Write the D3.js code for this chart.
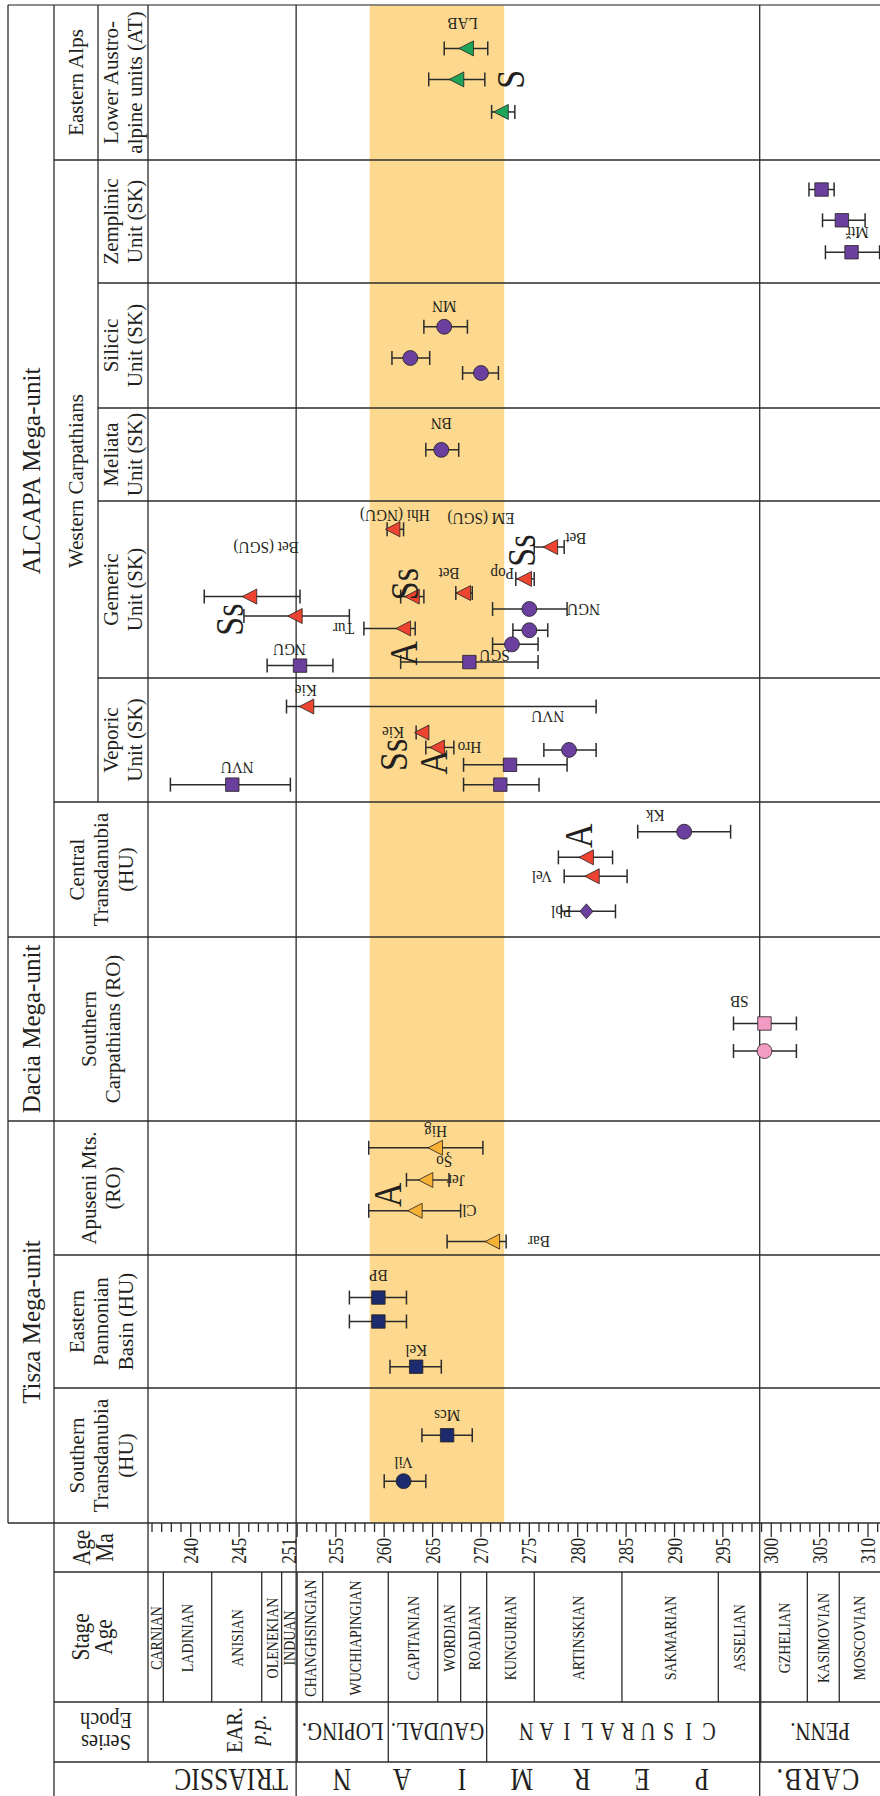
<!DOCTYPE html>
<html>
<head>
<meta charset="utf-8">
<script src="https://cdn.jsdelivr.net/npm/d3@7"></script>
<style>
  body { margin: 0; background: #fff; }
  svg { display: block; }
  text { font-family: "Liberation Serif", "Times New Roman", serif; fill: #231f20; }
</style>
</head>
<body>
<svg id="chart" width="880" height="1796"></svg>
<script>
// ---------------------------------------------------------------------------
// Geological time scale (Ma)
// ---------------------------------------------------------------------------
const majorTicks = [240, 245, 251, 255, 260, 265, 270, 275, 280, 285, 290, 295, 300, 305, 310];
const minorTicks = d3.range(236, 312);

const stages = [
  ["CARNIAN", 235.6, 237.17], ["LADINIAN", 237.17, 242.17], ["ANISIAN", 242.17, 247.34],
  ["OLENEKIAN", 247.34, 249.4], ["INDUAN", 249.4, 251], ["CHANGHSINGIAN", 251, 253.64],
  ["WUCHIAPINGIAN", 253.64, 260.42], ["CAPITANIAN", 260.42, 265.53], ["WORDIAN", 265.53, 267.9],
  ["ROADIAN", 267.9, 270.59], ["KUNGURIAN", 270.59, 275.51], ["ARTINSKIAN", 275.51, 284.57],
  ["SAKMARIAN", 284.57, 294.53], ["ASSELIAN", 294.53, 298.91], ["GZHELIAN", 298.91, 303.73],
  ["KASIMOVIAN", 303.73, 307.03], ["MOSCOVIAN", 307.03, 311.2]
];
const series = [
  ["EAR.|p.p.", 235.6, 251], ["LOPING.", 251, 260.42], ["GAUDAL.", 260.42, 270.59],
  ["CISURALIAN", 270.59, 298.91], ["PENN.", 298.91, 311.2]
];
const periods = [["TRIASSIC", 235.6, 251], ["PERMIAN", 251, 298.91], ["CARB.", 298.91, 311.2]];
const periodBoundaries = [251, 298.91];
const highlightedInterval = [258.5, 272.4];

// ---------------------------------------------------------------------------
// Tectonic units (top to bottom)
// ---------------------------------------------------------------------------
const megaUnits = ["ALCAPA Mega-unit", "Dacia Mega-unit", "Tisza Mega-unit"];
const unitGroups = ["Eastern Alps", "Western Carpathians"];
const units = [
  { id: "AT",  name: ["Lower Austro-", "alpine units (AT)"], group: "Eastern Alps", mega: "ALCAPA Mega-unit" },
  { id: "ZEM", name: ["Zemplinic", "Unit (SK)"], group: "Western Carpathians", mega: "ALCAPA Mega-unit" },
  { id: "SIL", name: ["Silicic", "Unit (SK)"], group: "Western Carpathians", mega: "ALCAPA Mega-unit" },
  { id: "MEL", name: ["Meliata", "Unit (SK)"], group: "Western Carpathians", mega: "ALCAPA Mega-unit" },
  { id: "GEM", name: ["Gemeric", "Unit (SK)"], group: "Western Carpathians", mega: "ALCAPA Mega-unit" },
  { id: "VEP", name: ["Veporic", "Unit (SK)"], group: "Western Carpathians", mega: "ALCAPA Mega-unit" },
  { id: "CT",  name: ["Central", "Transdanubia", "(HU)"], group: null, mega: "ALCAPA Mega-unit" },
  { id: "SC",  name: ["Southern", "Carpathians (RO)"], group: null, mega: "Dacia Mega-unit" },
  { id: "AP",  name: ["Apuseni Mts.", "(RO)"], group: null, mega: "Tisza Mega-unit" },
  { id: "EPB", name: ["Eastern", "Pannonian", "Basin (HU)"], group: null, mega: "Tisza Mega-unit" },
  { id: "ST",  name: ["Southern", "Transdanubia", "(HU)"], group: null, mega: "Tisza Mega-unit" }
];

// ---------------------------------------------------------------------------
// Dated samples: unit, track inside the unit row (0 top .. 1 bottom),
// age, lower and upper bound (Ma), marker, colour
// ---------------------------------------------------------------------------
const samples = [
  ["AT", 0.28, 268.5, 266.2, 270.7, "tri", "green"],
  ["AT", 0.48, 267.5, 264.6, 270.4, "tri", "green"],
  ["AT", 0.69, 272.1, 271.1, 273.5, "tri", "green"],
  ["ZEM", 0.24, 305.2, 303.9, 306.5, "square", "purple"],
  ["ZEM", 0.49, 307.3, 305.3, 309.7, "square", "purple"],
  ["ZEM", 0.75, 308.3, 305.6, 311.2, "square", "purple"],
  ["SIL", 0.35, 266.2, 264.1, 268.6, "circle", "purple"],
  ["SIL", 0.60, 262.7, 260.8, 264.7, "circle", "purple"],
  ["SIL", 0.72, 270.0, 268.1, 271.8, "circle", "purple"],
  ["MEL", 0.45, 265.9, 264.3, 267.7, "circle", "purple"],
  ["GEM", 0.54, 246.1, 241.4, 251.3, "tri", "red"],
  ["GEM", 0.65, 250.8, 245.5, 256.4, "tri", "red"],
  ["GEM", 0.93, 251.3, 247.9, 254.7, "square", "purple"],
  ["GEM", 0.72, 262.0, 257.9, 263.2, "tri", "red"],
  ["GEM", 0.16, 260.9, 260.3, 262.0, "tri", "red"],
  ["GEM", 0.54, 262.9, 261.7, 264.1, "tri", "red"],
  ["GEM", 0.52, 268.2, 267.4, 269.1, "tri", "red"],
  ["GEM", 0.44, 274.5, 273.6, 275.5, "tri", "red"],
  ["GEM", 0.26, 277.2, 275.5, 278.6, "tri", "red"],
  ["GEM", 0.61, 275.0, 271.2, 278.9, "circle", "purple"],
  ["GEM", 0.73, 275.0, 273.3, 276.9, "circle", "purple"],
  ["GEM", 0.81, 273.2, 271.2, 275.9, "circle", "purple"],
  ["GEM", 0.91, 268.8, 261.7, 275.9, "square", "purple"],
  ["VEP", 0.23, 252.0, 249.9, 281.9, "tri", "red"],
  ["VEP", 0.44, 263.9, 263.3, 264.5, "tri", "red"],
  ["VEP", 0.56, 265.5, 264.3, 267.2, "tri", "red"],
  ["VEP", 0.58, 279.1, 276.5, 281.9, "circle", "purple"],
  ["VEP", 0.70, 273.0, 268.2, 278.9, "square", "purple"],
  ["VEP", 0.86, 272.0, 268.2, 276.0, "square", "purple"],
  ["VEP", 0.86, 244.3, 237.9, 250.3, "square", "purple"],
  ["CT", 0.22, 291.0, 286.2, 295.8, "circle", "purple"],
  ["CT", 0.41, 280.9, 278.0, 283.6, "tri", "red"],
  ["CT", 0.55, 281.5, 278.6, 285.1, "tri", "red"],
  ["CT", 0.81, 280.9, 278.3, 283.9, "diamond", "purple"],
  ["SC", 0.47, 299.3, 296.1, 302.6, "square", "pink"],
  ["SC", 0.62, 299.3, 296.1, 302.6, "circle", "pink"],
  ["AP", 0.20, 265.3, 258.4, 270.2, "tri", "amber"],
  ["AP", 0.44, 264.3, 262.3, 266.7, "tri", "amber"],
  ["AP", 0.67, 263.2, 258.4, 267.9, "tri", "amber"],
  ["AP", 0.90, 271.2, 266.5, 272.6, "tri", "amber"],
  ["EPB", 0.32, 259.4, 256.4, 262.3, "square", "navy"],
  ["EPB", 0.50, 259.4, 256.4, 262.3, "square", "navy"],
  ["EPB", 0.84, 263.3, 260.6, 265.9, "square", "navy"],
  ["ST", 0.35, 266.5, 263.9, 269.1, "square", "navy"],
  ["ST", 0.69, 262.0, 260.0, 264.3, "circle", "navy"]
];

// Locality / sample names: unit, track, age, text
const sampleNames = [
  ["AT", 0.12, 268.1, "LAB"],
  ["ZEM", 0.59, 308.9, "Mtř"],
  ["SIL", 0.19, 266.2, "MN"],
  ["MEL", 0.17, 265.9, "BN"],
  ["GEM", 0.26, 247.8, "Bet (SGU)"],
  ["GEM", 0.84, 250.2, "NGU"],
  ["GEM", 0.72, 255.8, "Tur"],
  ["GEM", 0.08, 261.1, "Hhi (NGU)"],
  ["GEM", 0.10, 270.0, "EM (SGU)"],
  ["GEM", 0.41, 266.7, "Bet"],
  ["GEM", 0.41, 272.2, "Pop"],
  ["GEM", 0.21, 279.8, "Bet"],
  ["GEM", 0.61, 280.6, "NGU"],
  ["GEM", 0.87, 271.4, "SGU"],
  ["VEP", 0.10, 251.9, "Kie"],
  ["VEP", 0.44, 260.9, "Kie"],
  ["VEP", 0.56, 268.8, "Hro"],
  ["VEP", 0.31, 276.9, "NVU"],
  ["VEP", 0.72, 244.8, "NVU"],
  ["CT", 0.10, 288.0, "Kk"],
  ["CT", 0.55, 276.3, "Vel"],
  ["CT", 0.81, 278.3, "Pol"],
  ["SC", 0.35, 296.7, "SB"],
  ["AP", 0.08, 265.3, "Hig"],
  ["AP", 0.30, 266.2, "Şo"],
  ["AP", 0.44, 267.4, "Jer"],
  ["AP", 0.67, 268.8, "Cl"],
  ["AP", 0.90, 276.0, "Bar"],
  ["EPB", 0.15, 259.4, "BP"],
  ["EPB", 0.72, 263.3, "Kel"],
  ["ST", 0.20, 266.5, "Mcs"],
  ["ST", 0.55, 262.0, "Vil"]
];

// Rock-type letters: unit, track, age, letter
const rockTypes = [
  ["AT", 0.48, 273.0, "S"],
  ["GEM", 0.67, 244.0, "Ss"],
  ["GEM", 0.47, 262.1, "Ss"],
  ["GEM", 0.86, 262.0, "A"],
  ["GEM", 0.28, 274.2, "Ss"],
  ["VEP", 0.62, 260.9, "Ss"],
  ["VEP", 0.68, 265.1, "A"],
  ["CT", 0.25, 280.1, "A"],
  ["AP", 0.55, 260.3, "A"]
];

// ---------------------------------------------------------------------------
// Drawing
// ---------------------------------------------------------------------------
const colours = {
  purple: "#6a3f9e", navy: "#1c2a6e", red: "#ec4431",
  green: "#1fa55a", amber: "#f7b236", pink: "#f39bc4"
};
const ink = "#2b2b2b";

const frame = {
  left: 8, megaRight: 54, groupRight: 98, headRight: 148, right: 880,
  top: 5, axisTop: 1523, stageTop: 1572, seriesTop: 1702, periodTop: 1762, bottom: 1796
};
const rowHeights = [155, 123, 125, 93, 177, 124, 135, 184, 134, 133, 135];
const rowTop = {}, rowH = {};
{
  let yy = frame.top;
  units.forEach((u, i) => { rowTop[u.id] = yy; rowH[u.id] = rowHeights[i]; yy += rowHeights[i]; });
}

const x = d3.scaleLinear().domain([240, 310]).range([190.7, 868]);
const yOf = (unit, track) => rowTop[unit] + track * rowH[unit];

const svg = d3.select("#chart");
const gBand = svg.append("g");
const gGrid = svg.append("g").attr("stroke", ink).attr("stroke-width", 1.3).attr("fill", "none");
const gData = svg.append("g");
const gText = svg.append("g");

function label(g, lines, px, py, angle, size, o = {}) {
  const arr = Array.isArray(lines) ? lines : [lines];
  const lh = o.lh || size * 1.12;
  const t = g.append("text")
    .attr("transform", `translate(${px},${py}) rotate(${angle}) scale(${o.sx ?? 1},1)`)
    .attr("text-anchor", o.anchor || "middle")
    .style("font-size", size + "px");
  if (o.spacing) t.style("letter-spacing", o.spacing + "px");
  arr.forEach((s, i) => {
    const item = typeof s === "string" ? { text: s } : s;
    const ts = t.append("tspan").attr("x", 0)
      .attr("dy", i === 0 ? (-(arr.length - 1) / 2 * lh + size * 0.34) : lh)
      .text(item.text);
    if (item.italic) ts.style("font-style", "italic");
  });
  return t;
}

function hline(y, x1, x2) { gGrid.append("line").attr("x1", x1).attr("x2", x2).attr("y1", y).attr("y2", y); }
function vline(xx, y1, y2) { gGrid.append("line").attr("x1", xx).attr("x2", xx).attr("y1", y1).attr("y2", y2); }

// Highlighted interval
gBand.append("rect")
  .attr("x", x(highlightedInterval[0])).attr("y", frame.top)
  .attr("width", x(highlightedInterval[1]) - x(highlightedInterval[0]))
  .attr("height", frame.axisTop - frame.top)
  .attr("fill", "#fdd98f");

// Frame lines
gGrid.append("line").attr("x1", frame.left).attr("x2", frame.right)
  .attr("y1", frame.top).attr("y2", frame.top).attr("stroke", "#666");
vline(frame.left, frame.top, frame.axisTop);
vline(frame.megaRight, frame.top, frame.bottom);
vline(frame.headRight, frame.top, frame.periodTop);
hline(frame.axisTop, frame.left, frame.right);
hline(frame.stageTop, frame.megaRight, frame.right);
hline(frame.seriesTop, frame.megaRight, frame.right);
hline(frame.periodTop, frame.megaRight, frame.right);
periodBoundaries.forEach(a => vline(x(a) - 1, frame.top, frame.bottom));

// Row separators
units.forEach((u, i) => {
  if (i === units.length - 1) return;
  const next = units[i + 1];
  const y0 = rowTop[u.id] + rowH[u.id];
  let x0 = frame.groupRight;
  if (next.mega !== u.mega) x0 = frame.left;
  else if (!u.group || next.group !== u.group) x0 = frame.megaRight;
  hline(y0, x0, frame.right);
});

// Group column divider
const groupedRows = units.filter(u => u.group);
const groupBottom = d3.max(groupedRows, u => rowTop[u.id] + rowH[u.id]);
vline(frame.groupRight, frame.top, groupBottom);

// Mega-unit labels
megaUnits.forEach(m => {
  const rows = units.filter(u => u.mega === m);
  const y0 = rowTop[rows[0].id], y1 = rowTop[rows[rows.length - 1].id] + rowH[rows[rows.length - 1].id];
  label(gText, m, (frame.left + frame.megaRight) / 2, (y0 + y1) / 2, -90, 25);
});
// Group labels
unitGroups.forEach(gname => {
  const rows = units.filter(u => u.group === gname);
  const y0 = rowTop[rows[0].id], y1 = rowTop[rows[rows.length - 1].id] + rowH[rows[rows.length - 1].id];
  label(gText, gname, (frame.megaRight + frame.groupRight) / 2, (y0 + y1) / 2, -90, 21);
});
// Unit labels
units.forEach(u => {
  const cx = u.group ? (frame.groupRight + frame.headRight) / 2 : (frame.megaRight + frame.headRight) / 2;
  label(gText, u.name, cx, rowTop[u.id] + rowH[u.id] / 2, -90, 21, { lh: 24.5 });
});

// Age axis
minorTicks.forEach(t => {
  const major = majorTicks.includes(t);
  vline(x(t), frame.axisTop, frame.axisTop + (major ? 14 : 9));
});
majorTicks.forEach(t => {
  // the 251 label sits just left of the period boundary line
  const shift = periodBoundaries.includes(t) ? -8 : 0;
  label(gText, String(t), x(t) + shift, frame.axisTop + 15, -90, 21, { anchor: "end", sx: 0.82 });
});

// Stage row
stages.forEach(([name, a0, a1]) => {
  const x0 = Math.max(x(a0), frame.headRight), x1 = Math.min(x(a1), frame.right);
  if (a1 < 311) vline(x(a1), frame.stageTop, frame.seriesTop);
  label(gText, name, (x0 + x1) / 2, (frame.stageTop + frame.seriesTop) / 2 + 1, -90, 17.5, { sx: 0.8 });
});

// Series row
series.forEach(([name, a0, a1]) => {
  const x0 = Math.max(x(a0), frame.headRight), x1 = Math.min(x(a1), frame.right);
  if (a1 < 311) vline(x(a1), frame.seriesTop, frame.periodTop);
  const cy = (frame.seriesTop + frame.periodTop) / 2;
  if (name.includes("|")) {
    const [l1, l2] = name.split("|");
    label(gText, [l1, { text: l2, italic: true }], x1 - 51, cy - 2, -90, 24, { sx: 0.85, lh: 24 });
  } else if (name === "CISURALIAN") {
    const letters = name.split("");
    const cx = (x0 + x1) / 2 - 6, step = 20.3;
    letters.forEach((ch, i) => label(gText, ch, cx + ((letters.length - 1) / 2 - i) * step, cy, 180, 25, { sx: 0.8 }));
  } else {
    label(gText, name, (x0 + x1) / 2, cy, 180, 25.5, { sx: 0.82 });
  }
});

// Period row
periods.forEach(([name, a0, a1]) => {
  const x0 = Math.max(x(a0), frame.megaRight), x1 = Math.min(x(a1), frame.right);
  const cy = (frame.periodTop + frame.bottom) / 2 + 1;
  if (name === "PERMIAN") {
    const letters = name.split("");
    const cx = (x0 + x1) / 2 - 7, step = 60;
    letters.forEach((ch, i) => label(gText, ch, cx + ((letters.length - 1) / 2 - i) * step, cy, 180, 32, { sx: 0.8 }));
  } else if (name === "TRIASSIC") {
    label(gText, name, x1 - 66, cy, 180, 32, { sx: 0.8 });
  } else {
    label(gText, name, (x0 + x1) / 2 - 3, cy, 180, 32, { sx: 0.8, spacing: 2 });
  }
});

// Header column
label(gText, ["Age", "Ma"], 93, (frame.axisTop + frame.stageTop) / 2, -90, 25, { sx: 0.85, lh: 23 });
label(gText, ["Stage", "Age"], 92, (frame.stageTop + frame.seriesTop) / 2, -90, 25, { sx: 0.85, lh: 23 });
label(gText, ["Series", "Epoch"], 106, (frame.seriesTop + frame.periodTop) / 2, 180, 24, { sx: 0.85, lh: 22 });

// Error bars
const cap = 7;
samples.forEach(([unit, track, age, lo, hi]) => {
  const yy = yOf(unit, track);
  const g = gData.append("g").attr("stroke", ink).attr("stroke-width", 1.5);
  g.append("line").attr("x1", x(lo)).attr("x2", x(hi)).attr("y1", yy).attr("y2", yy);
  g.append("line").attr("x1", x(lo)).attr("x2", x(lo)).attr("y1", yy - cap).attr("y2", yy + cap);
  g.append("line").attr("x1", x(hi)).attr("x2", x(hi)).attr("y1", yy - cap).attr("y2", yy + cap);
});

// Markers
const shapes = {
  circle: d3.symbol(d3.symbolCircle, 175)(),
  square: d3.symbol(d3.symbolSquare, 180)(),
  diamond: "M0,-7.5L6.5,0L0,7.5L-6.5,0Z",
  tri: "M-7.5,0L7,-7.5L7,7.5Z"
};
samples.forEach(([unit, track, age, lo, hi, shape, colour]) => {
  gData.append("path")
    .attr("d", shapes[shape])
    .attr("transform", `translate(${x(age)},${yOf(unit, track)})`)
    .attr("fill", colours[colour])
    .attr("stroke", "#231f20").attr("stroke-width", 0.8);
});

// Sample names (upside-down)
sampleNames.forEach(([unit, track, age, text]) => {
  label(gText, text, x(age), yOf(unit, track), 180, 16, { sx: 0.95 });
});

// Rock-type letters
rockTypes.forEach(([unit, track, age, letter]) => {
  label(gText, letter, x(age), yOf(unit, track), -90, 40, { sx: 0.85 });
});
</script>
</body>
</html>
